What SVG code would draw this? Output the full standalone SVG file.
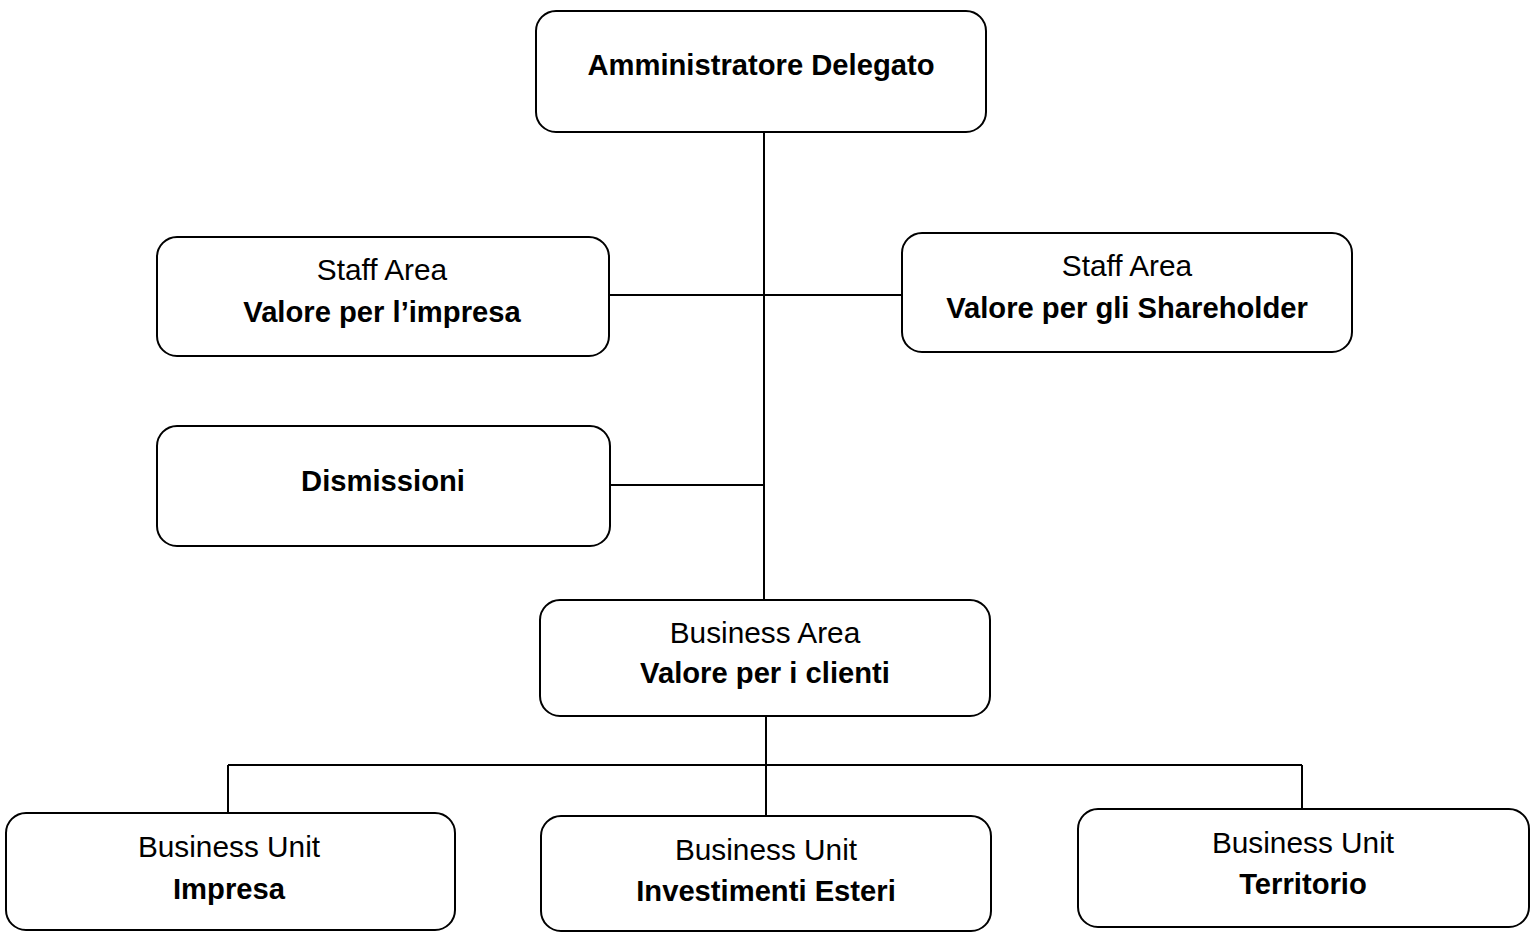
<svg xmlns="http://www.w3.org/2000/svg" width="1531" height="932" viewBox="0 0 1531 932">
<style>
.box{fill:#fff;stroke:#000;stroke-width:2}
.ln{stroke:#000;stroke-width:2;fill:none}
text{font-family:"Liberation Sans",Arial,sans-serif;font-size:29.8px;text-anchor:middle;fill:#000}
.b{font-weight:bold;font-size:29.2px}
</style>
<rect width="1531" height="932" fill="#fff"/>
<g id="connectors">
<path class="ln" d="M764 132V600M609 295H902M610 485H765M766 716V765M228 765H1302M228 765V813M766 765V816M1302 765V809"/>
</g>
<g id="ad"><rect class="box" x="536" y="11" width="450" height="121" rx="20"/><text class="b" x="761" y="74.5">Amministratore Delegato</text></g>
<g id="staff-impresa"><rect class="box" x="157" y="237" width="452" height="119" rx="20"/><text x="382" y="279.5">Staff Area</text><text class="b" x="382" y="321.5">Valore per l’impresa</text></g>
<g id="staff-shareholder"><rect class="box" x="902" y="233" width="450" height="119" rx="20"/><text x="1127" y="275.5">Staff Area</text><text class="b" x="1127" y="317.5">Valore per gli Shareholder</text></g>
<g id="dismissioni"><rect class="box" x="157" y="426" width="453" height="120" rx="20"/><text class="b" x="383" y="490.5">Dismissioni</text></g>
<g id="business-area"><rect class="box" x="540" y="600" width="450" height="116" rx="20"/><text x="765" y="642.5">Business Area</text><text class="b" x="765" y="682.5">Valore per i clienti</text></g>
<g id="bu-impresa"><rect class="box" x="6" y="813" width="449" height="117" rx="20"/><text x="229" y="856.5">Business Unit</text><text class="b" x="229" y="898.5">Impresa</text></g>
<g id="bu-investimenti"><rect class="box" x="541" y="816" width="450" height="115" rx="20"/><text x="766" y="859.5">Business Unit</text><text class="b" x="766" y="900.5">Investimenti Esteri</text></g>
<g id="bu-territorio"><rect class="box" x="1078" y="809" width="451" height="118" rx="20"/><text x="1303" y="852.5">Business Unit</text><text class="b" x="1303" y="893.5">Territorio</text></g>
</svg>
